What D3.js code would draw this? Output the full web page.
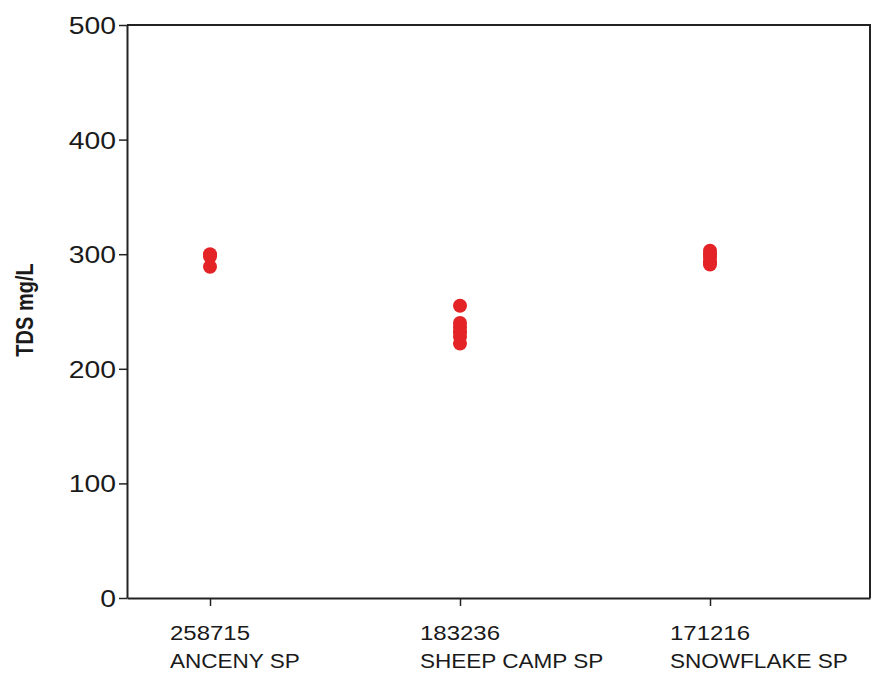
<!DOCTYPE html>
<html>
<head>
<meta charset="utf-8">
<script src="https://cdn.jsdelivr.net/npm/d3@7"></script>
<style>
  body { margin: 0; background: #fff; }
  text { font-family: "Liberation Sans", Arial, sans-serif; fill: #1a1a1a; }
</style>
</head>
<body>
<div id="chart"></div>
<script>
// site ids and names shown under the x axis
var siteIds = ["258715", "183236", "171216"];
var siteNames = ["ANCENY SP", "SHEEP CAMP SP", "SNOWFLAKE SP"];

// TDS samples (mg/L) per site
var ancenyTds = [300, 298, 289];
var sheepCampTds = [255, 240, 236, 232, 228, 222];
var snowflakeTds = [303, 300, 297, 293, 291];

var yTicks = [0, 100, 200, 300, 400, 500];

var svgWidth = 873;
var svgHeight = 673;

var plot = { left: 127, right: 870, top: 25, bottom: 598 };
var stretch = 1.15; // the reference text is a bit wide

var svg = d3.select("#chart")
  .append("svg")
  .attr("width", svgWidth)
  .attr("height", svgHeight);

// x positions: categories at 1,2,3 on a linear axis
var xScale = d3.scaleLinear()
  .domain([0.668, 3.64])
  .range([plot.left, plot.right]);

var yScale = d3.scaleLinear()
  .domain([0, 500])
  .range([plot.bottom, plot.top]);

// frame (top + right)
svg.append("path")
  .attr("d", `M${plot.left},${plot.top}H${plot.right}V${plot.bottom}`)
  .attr("fill", "none")
  .attr("stroke", "#222")
  .attr("stroke-width", 2);

// y axis
var leftAxis = d3.axisLeft(yScale)
  .tickValues(yTicks)
  .tickSizeInner(8)
  .tickSizeOuter(0)
  .tickPadding(4);

var yAxis = svg.append("g")
  .attr("transform", `translate(${plot.left}, 0)`)
  .call(leftAxis);

yAxis.select(".domain").attr("stroke", "#222").attr("stroke-width", 2);
yAxis.selectAll(".tick line").attr("stroke", "#222").attr("stroke-width", 1.5);
yAxis.selectAll(".tick text")
  .attr("font-size", "24px")
  .attr("font-family", "Liberation Sans, Arial, sans-serif")
  .attr("fill", "#1a1a1a")
  .attr("x", null)
  .attr("dy", "0.35em")
  .attr("transform", `translate(-11,0) scale(1.18,1)`);

// x axis
var bottomAxis = d3.axisBottom(xScale)
  .tickValues([1, 2, 3])
  .tickSizeInner(8)
  .tickSizeOuter(0)
  .tickFormat("");

var xAxis = svg.append("g")
  .attr("transform", `translate(0, ${plot.bottom})`)
  .call(bottomAxis);

xAxis.select(".domain").attr("stroke", "#222").attr("stroke-width", 2);
xAxis.selectAll(".tick line").attr("stroke", "#222").attr("stroke-width", 1.5);

// two-line category labels, left aligned under each tick
siteIds.forEach(function(id, i) {
  var x0 = xScale(i + 1) - 40;
  svg.append("text")
    .attr("font-size", "20.5px")
    .attr("transform", `translate(${x0}, 640) scale(1.17,1)`)
    .text(id);
  svg.append("text")
    .attr("font-size", "20.5px")
    .attr("transform", `translate(${x0}, 668) scale(1.1,1)`)
    .text(siteNames[i]);
});

// y label
svg.append("text")
  .attr("font-size", "20px")
  .attr("font-weight", "bold")
  .attr("text-anchor", "middle")
  .attr("transform", "translate(33, 310) rotate(-90) scale(1,1.15)")
  .text("TDS mg/L");

// points
var allSeries = [ancenyTds, sheepCampTds, snowflakeTds];
var points = [];
allSeries.forEach(function(vals, i) {
  vals.forEach(function(v) {
    points.push({ site: i + 1, tds: v });
  });
});

svg.append("g")
  .selectAll("circle")
  .data(points)
  .enter()
  .append("circle")
  .attr("cx", d => xScale(d.site))
  .attr("cy", d => yScale(d.tds))
  .attr("r", 7)
  .attr("fill", "#e42327");
</script>
</body>
</html>
